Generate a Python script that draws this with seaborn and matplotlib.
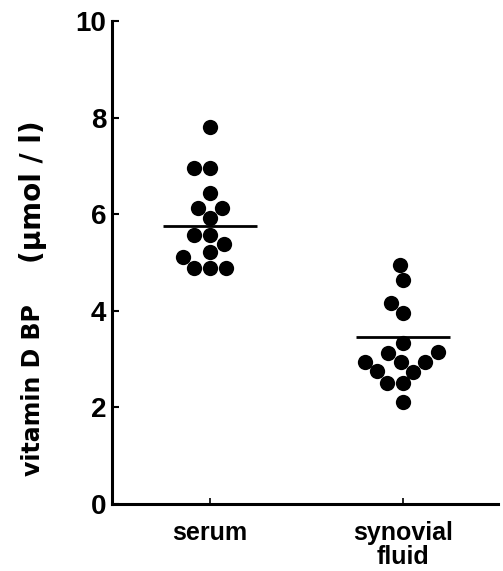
import matplotlib
matplotlib.use("Agg")
import matplotlib.pyplot as plt
import seaborn as sns
import pandas as pd

categories = ["serum", "synovial\nfluid"]
serum_values = [7.80, 6.96, 6.96, 6.45, 6.13, 6.13, 5.93, 5.58, 5.58, 5.38,
                5.21, 5.11, 4.88, 4.88, 4.88]
synovial_values = [4.95, 4.64, 4.16, 3.95, 3.33, 3.15, 3.12, 2.95, 2.95, 2.95,
                   2.75, 2.74, 2.50, 2.50, 2.12]
group_means = [5.75, 3.45]
y_ticks = [0, 2, 4, 6, 8, 10]
y_label_main = "vitamin D BP"
y_label_unit = "(µmol / l)"

df = pd.DataFrame({
    "group": [categories[0]] * len(serum_values) + [categories[1]] * len(synovial_values),
    "value": serum_values + synovial_values,
})

sns.set_style("ticks")
plt.rcParams["font.family"] = ["Liberation Sans", "DejaVu Sans"]
plt.rcParams["font.weight"] = "bold"
for key in ["text.color", "axes.labelcolor", "xtick.color", "ytick.color", "axes.edgecolor"]:
    plt.rcParams[key] = "black"

fig = plt.figure(figsize=(5.03, 5.71), dpi=100)
ax = fig.add_axes([0.2227, 0.1173, 0.767, 0.8457])

sns.swarmplot(data=df, x="group", y="value", order=categories, color="black",
              size=11, ax=ax, linewidth=0)

for i, m in enumerate(group_means):
    ax.hlines(m, i - 0.245, i + 0.245, color="black", linewidth=2.0)

ax.set_ylim(0, 10)
ax.set_xlim(-0.508, 1.492)
ax.set_yticks(y_ticks)
ax.set_yticklabels([str(t) for t in y_ticks], fontsize=20, fontweight="bold")
ax.set_xticks(range(len(categories)))
ax.set_xticklabels(categories, fontsize=18, fontweight="bold", linespacing=1.0)
ax.set_xlabel("")
ax.set_ylabel("")

fig.text(33 / 503, 1 - 390 / 571, y_label_main, rotation=90, ha="center", va="center",
         fontsize=17, fontweight="bold", family=["DejaVu Sans"])
fig.text(33 / 503, 1 - 192 / 571, y_label_unit, rotation=90, ha="center", va="center",
         fontsize=20, fontweight="bold", family=["DejaVu Sans"])

sns.despine(ax=ax, top=True, right=True)
for s in ["left", "bottom"]:
    ax.spines[s].set_linewidth(2.2)
ax.tick_params(axis="y", direction="in", length=5, width=1.5, pad=4)
ax.tick_params(axis="x", direction="in", length=4, width=1.2, pad=12)

fig.savefig("out.png", dpi=100)
